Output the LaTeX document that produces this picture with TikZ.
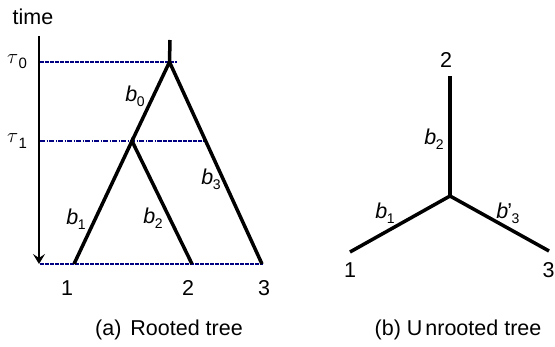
\documentclass[tikz,border=0pt]{standalone}
\usepackage{fontspec}
\setmainfont{Liberation Sans}
\usetikzlibrary{arrows.meta}
\definecolor{dashblue}{RGB}{0,0,130}
\newcommand\bsub[1]{\textit{b}\kern-0.5pt\raisebox{-0.45ex}{\fontsize{14}{14}\selectfont #1}}
\newcommand\tsub[1]{$\tau$\kern0.5pt\raisebox{-0.45ex}{\fontsize{15}{15}\selectfont #1}}
\begin{document}
\begin{tikzpicture}[x=1pt,y=-1pt,
  txt/.style={inner sep=0pt,font=\fontsize{21.5}{25}\selectfont},
  edge/.style={line width=3.5pt,line cap=butt},
  guide/.style={dashblue,line width=2.5pt,dash pattern=on 4pt off 1pt},
  guidethin/.style={dashblue,line width=1.2pt,dash pattern=on 5pt off 1.5pt on 1pt off 1.5pt}]
\useasboundingbox (0,0) rectangle (555,347);
% ---- (a) rooted tree ----
\node[txt] (time) at (33,17) {time};
\coordinate (ax0) at (39,36);
\coordinate (ax1) at (39,264);
\node[txt] (t0) at (17,62) {\tsub{0}};
\node[txt] (t1) at (17,141) {\tsub{1}};
\coordinate (g0a) at (40,62);
\coordinate (g0b) at (177,62);
\coordinate (g1a) at (40,141);
\coordinate (g1m) at (158,141);
\coordinate (g1b) at (205,141);
\coordinate (g2a) at (40,264);
\coordinate (g2b) at (263,264);
\draw[guide] (g0a) -- (g0b);
\draw[guidethin] (g1a) -- (g1m);
\draw[guide] (g1m) -- (g1b);
\draw[guide] (g2a) -- (g2b);
\draw[line width=1.3pt,-{Stealth[length=10pt,width=12pt,inset=4pt]}] (ax0) -- (ax1);
\coordinate (top) at (170,40);
\coordinate (root) at (169.5,62);
\coordinate (n1) at (132,141);
\coordinate (l1) at (74,264);
\coordinate (l2) at (192,264);
\coordinate (l3) at (262,264);
\draw[edge] (top) -- (root);
\draw[edge,line join=miter] (n1) -- (root) -- (l3);
\draw[edge,line join=miter] (l1) -- (n1) -- (l2);
\node[txt] (la1) at (67,288) {1};
\node[txt] (la2) at (188,288) {2};
\node[txt] (la3) at (264,288) {3};
\node[txt] (b0) at (135,96) {\bsub{0}};
\node[txt] (b1) at (76,219) {\bsub{1}};
\node[txt] (b2) at (153,218) {\bsub{2}};
\node[txt] (b3) at (211,179) {\bsub{3}};
\node[txt] (capa) at (169,330) {(a)\hspace{3pt} Rooted tree};
% ---- (b) unrooted tree ----
\coordinate (c) at (450,196);
\coordinate (u2) at (450,76);
\coordinate (u1) at (350,252);
\coordinate (u3) at (549,251);
\draw[edge] (c) -- (u2);
\draw[edge] (c) -- (u1);
\draw[edge] (c) -- (u3);
\node[txt] (ul2) at (446,60) {2};
\node[txt] (ul1) at (350,270) {1};
\node[txt] (ul3) at (548.5,270) {3};
\node[txt] (ub2) at (434,139) {\bsub{2}};
\node[txt] (ub1) at (385,213) {\bsub{1}};
\node[txt] (ub3) at (508,213) {\textit{b}\kern-1pt'\kern-0.5pt\raisebox{-0.45ex}{\fontsize{14}{14}\selectfont 3}};
\node[txt] (capb) at (458,330) {(b) U\kern3pt nrooted tree};
\end{tikzpicture}
\end{document}
